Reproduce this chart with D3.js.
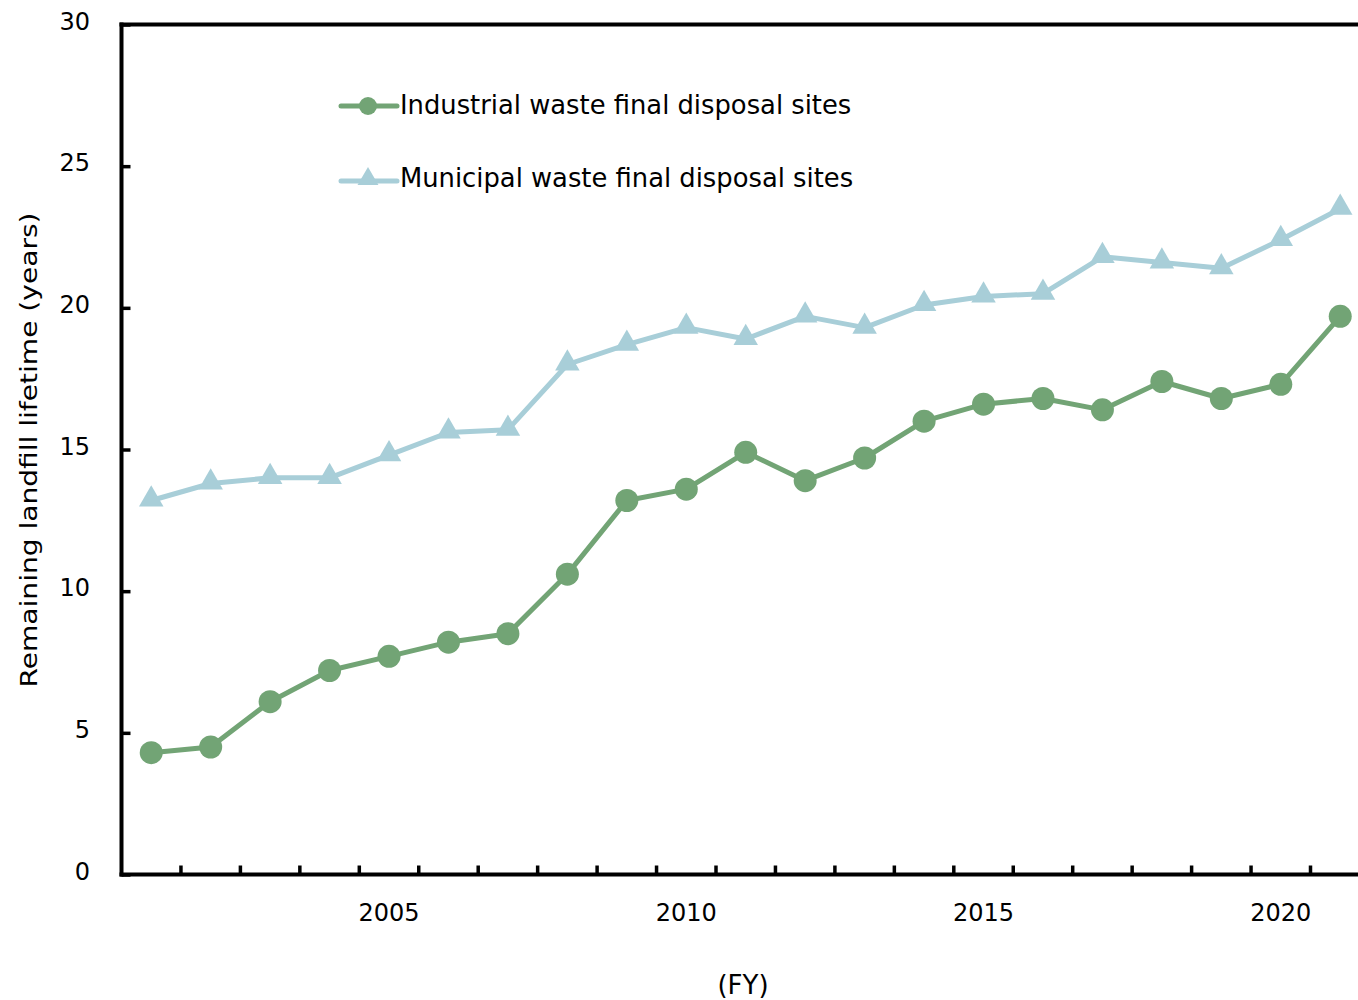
<!DOCTYPE html>
<html>
<head>
<meta charset="utf-8">
<script src="https://cdn.jsdelivr.net/npm/d3@7"></script>
<style>
  html, body { margin: 0; padding: 0; background: #fff; }
  svg { display: block; }
  text { font-family: "DejaVu Sans", Verdana, sans-serif; fill: #000; }
</style>
</head>
<body>
<svg id="chart" width="1358" height="1000"></svg>
<script>
// Fiscal years on the horizontal axis
const years = [2001, 2002, 2003, 2004, 2005, 2006, 2007, 2008, 2009, 2010,
               2011, 2012, 2013, 2014, 2015, 2016, 2017, 2018, 2019, 2020, 2021];

// Remaining landfill lifetime (years)
const industrial = [4.3, 4.5, 6.1, 7.2, 7.7, 8.2, 8.5, 10.6, 13.2, 13.6,
                    14.9, 13.9, 14.7, 16.0, 16.6, 16.8, 16.4, 17.4, 16.8, 17.3, 19.7];
const municipal  = [13.2, 13.8, 14.0, 14.0, 14.8, 15.6, 15.7, 18.0, 18.7, 19.3,
                    18.9, 19.7, 19.3, 20.1, 20.4, 20.5, 21.8, 21.6, 21.4, 22.4, 23.5];

const yTicks = [0, 5, 10, 15, 20, 25, 30];
const xLabelYears = [2005, 2010, 2015, 2020];

const seriesNames = ["Industrial waste final disposal sites", "Municipal waste final disposal sites"];
const seriesColors = ["#72a475", "#a8ced8"];

const svg = d3.select("#chart");
const plotLeft = 121.5, plotTop = 24.5, plotBottom = 874.5;
const band = 59.45;

const x = d3.scaleBand().domain(years).range([plotLeft, plotLeft + band * years.length]).paddingInner(0).paddingOuter(0);
const y = d3.scaleLinear().domain([0, 30]).range([plotBottom, plotTop]);
const cx = d => x(d) + x.bandwidth() / 2;

// Frame: top rule, left and bottom axes
svg.append("line").attr("x1", plotLeft - 2).attr("x2", 1358).attr("y1", plotTop).attr("y2", plotTop)
  .attr("stroke", "#000").attr("stroke-width", 4);

// Left axis with inward ticks
const yAxis = d3.axisRight(y).tickValues(yTicks).tickSize(9).tickFormat("");
const gy = svg.append("g").attr("transform", `translate(${plotLeft},0)`).call(yAxis);
gy.select(".domain").remove();
gy.selectAll(".tick line").attr("stroke", "#000").attr("stroke-width", 3.5);
svg.append("line").attr("x1", plotLeft).attr("x2", plotLeft).attr("y1", plotTop - 2).attr("y2", plotBottom + 2)
  .attr("stroke", "#000").attr("stroke-width", 4);
svg.selectAll(".ylab").data(yTicks).enter().append("text")
  .attr("class", "ylab")
  .attr("x", 90).attr("y", d => y(d) - 3)
  .attr("text-anchor", "end").attr("dominant-baseline", "central")
  .style("font-size", "24px")
  .text(d => d);

// Bottom axis: ticks at year boundaries pointing up
const boundaries = years.slice(1);
svg.selectAll(".xtick").data(boundaries).enter().append("line")
  .attr("class", "xtick")
  .attr("x1", d => x(d)).attr("x2", d => x(d))
  .attr("y1", plotBottom).attr("y2", plotBottom - 9)
  .attr("stroke", "#000").attr("stroke-width", 3.5);
svg.append("line").attr("x1", plotLeft - 2).attr("x2", 1358).attr("y1", plotBottom).attr("y2", plotBottom)
  .attr("stroke", "#000").attr("stroke-width", 4);
svg.selectAll(".xlab").data(xLabelYears).enter().append("text")
  .attr("class", "xlab")
  .attr("x", d => cx(d)).attr("y", 913)
  .attr("text-anchor", "middle").attr("dominant-baseline", "central")
  .style("font-size", "24px")
  .text(d => d);

// Axis titles
svg.append("text").attr("x", 743).attr("y", 985)
  .attr("text-anchor", "middle").attr("dominant-baseline", "central")
  .style("font-size", "26px").text("(FY)");
svg.append("text")
  .attr("transform", "translate(29,450) rotate(-90)")
  .attr("text-anchor", "middle").attr("dominant-baseline", "central")
  .attr("textLength", 475).attr("lengthAdjust", "spacingAndGlyphs")
  .style("font-size", "23px").text("Remaining landfill lifetime (years)");

// Lines and markers
const line = d3.line().x((d, i) => cx(years[i])).y(d => y(d));
const triangle = d3.symbol().type(d3.symbolTriangle).size(260);

svg.append("path").datum(municipal).attr("d", line)
  .attr("fill", "none").attr("stroke", seriesColors[1]).attr("stroke-width", 5).attr("stroke-linejoin", "round");
svg.selectAll(".tri").data(municipal).enter().append("path")
  .attr("class", "tri")
  .attr("d", triangle)
  .attr("transform", (d, i) => `translate(${cx(years[i])},${y(d) - 1})`)
  .attr("fill", seriesColors[1]);

svg.append("path").datum(industrial).attr("d", line)
  .attr("fill", "none").attr("stroke", seriesColors[0]).attr("stroke-width", 5).attr("stroke-linejoin", "round");
svg.selectAll(".dot").data(industrial).enter().append("circle")
  .attr("class", "dot")
  .attr("cx", (d, i) => cx(years[i])).attr("cy", d => y(d)).attr("r", 11.5)
  .attr("fill", seriesColors[0]);

// Legend
const legend = svg.append("g");
const legendRows = [
  { name: seriesNames[0], color: seriesColors[0], shape: "circle", y: 106, ty: 105 },
  { name: seriesNames[1], color: seriesColors[1], shape: "triangle", y: 181, ty: 178 }
];
legendRows.forEach(r => {
  legend.append("line").attr("x1", 341).attr("x2", 397).attr("y1", r.y).attr("y2", r.y)
    .attr("stroke", r.color).attr("stroke-width", 5).attr("stroke-linecap", "round");
  if (r.shape === "circle") {
    legend.append("circle").attr("cx", 368).attr("cy", r.y).attr("r", 9).attr("fill", r.color);
  } else {
    legend.append("path").attr("d", d3.symbol().type(d3.symbolTriangle).size(190))
      .attr("transform", `translate(368,${r.y - 2})`).attr("fill", r.color);
  }
  legend.append("text").attr("x", 400).attr("y", r.ty)
    .attr("dominant-baseline", "central").style("font-size", "25.8px").text(r.name);
});
</script>
</body>
</html>
